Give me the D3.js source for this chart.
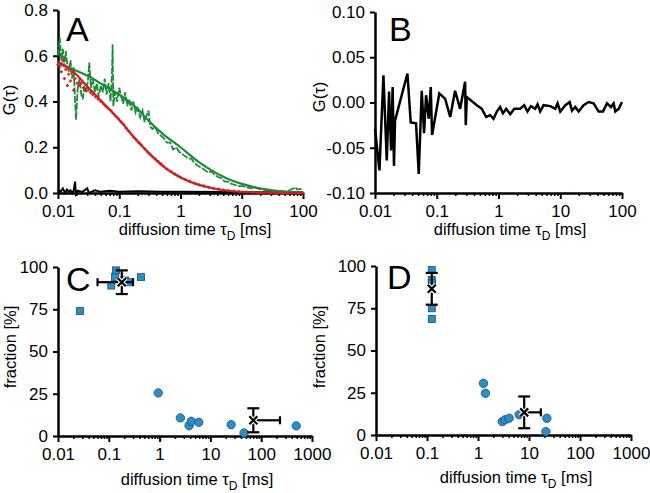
<!DOCTYPE html>
<html><head><meta charset="utf-8">
<script src="https://cdn.jsdelivr.net/npm/d3@7"></script>
<style>
body{margin:0;background:#fff;}
svg{font-family:"Liberation Sans",Arial,sans-serif;}
</style></head><body>
<svg id="c" width="650" height="493"></svg>
<script>
// ---------- DATA ----------
// Panel A: green autocorrelation data (tau in ms, G)
const tauGreen = [0.0100,0.0107,0.0113,0.0120,0.0127,0.0134,0.0142,0.0150,0.0160,0.0170,0.0180,0.0190,0.0197,0.0210,0.0225,0.0240,0.0255,0.0270,0.0290,0.0310,0.0324,0.0345,0.0370,0.0400,0.0430,0.0460,0.0500,0.0540,0.0580,0.0620,0.0670,0.0720,0.0760,0.0780,0.0800,0.0850,0.0920,0.100,0.108,0.116,0.125,0.135,0.146,0.158,0.170,0.185,0.200,0.220,0.240,0.260,0.280,0.300,0.320,0.350,0.390,0.430,0.480,0.530,0.600,0.680,0.760,0.850,0.950,1.07,1.2,1.35,1.5,1.7,1.9,2.2,2.5,2.8,3.2,3.6,4.1,4.6,5.3,6.0,6.8,7.8,9.0,10.5,12,14,16,19,22,26,30,35,42,50,60,70,75,80,90,100];
const gGreen   = [0.60,0.68,0.58,0.63,0.55,0.62,0.56,0.53,0.58,0.50,0.55,0.40,0.32,0.46,0.50,0.43,0.41,0.47,0.44,0.50,0.57,0.46,0.50,0.44,0.48,0.42,0.47,0.44,0.50,0.43,0.48,0.40,0.52,0.65,0.38,0.44,0.40,0.46,0.42,0.39,0.44,0.38,0.41,0.36,0.40,0.35,0.37,0.33,0.36,0.31,0.34,0.36,0.29,0.28,0.29,0.26,0.25,0.24,0.22,0.22,0.19,0.20,0.18,0.17,0.16,0.15,0.15,0.13,0.12,0.11,0.10,0.09,0.095,0.08,0.07,0.065,0.05,0.05,0.04,0.035,0.03,0.03,0.025,0.02,0.025,0.018,0.015,0.012,0.01,0.008,0.01,0.006,0.012,0.02,0.025,0.015,0.018,0.015];
// Panel A: fit curves sampled
const tauFit   = [0.01,0.0178,0.0316,0.0562,0.1,0.178,0.316,0.562,1,1.78,3.16,5.62,10,17.8,31.6,56.2,100];
const gGreenFit= [0.565,0.54,0.51,0.47,0.43,0.38,0.31,0.25,0.20,0.145,0.10,0.065,0.04,0.023,0.012,0.005,0.002];
const gRedFit  = [0.575,0.53,0.46,0.39,0.32,0.24,0.17,0.11,0.068,0.04,0.022,0.011,0.005,0.002,0.001,0.0,0.0];
// Panel A: red autocorrelation data
const tauRed = [0.010,0.0107,0.0113,0.012,0.0127,0.0134,0.0142,0.015,0.016,0.017,0.018,0.019,0.0205,0.022,0.024,0.026,0.028,0.031,0.034,0.037,0.041,0.045,0.05,0.055,0.06,0.066,0.073,0.08,0.088,0.097,0.107,0.118,0.13,0.143,0.158,0.174,0.19,0.21,0.23,0.26,0.29,0.32,0.35,0.39,0.43,0.48,0.53,0.6,0.7,0.8,0.9,1.0,1.2,1.4,1.7,2.0,2.4,2.9,3.5,4.2,5,6,7.5,9,12,15,20,30,50,100];
const gRed   = [0.56,0.55,0.53,0.58,0.50,0.54,0.47,0.52,0.49,0.53,0.45,0.50,0.48,0.47,0.48,0.46,0.45,0.45,0.44,0.43,0.42,0.41,0.40,0.39,0.38,0.37,0.36,0.347,0.335,0.324,0.311,0.30,0.284,0.27,0.256,0.243,0.232,0.22,0.209,0.194,0.18,0.169,0.159,0.148,0.138,0.127,0.116,0.105,0.094,0.084,0.076,0.068,0.059,0.052,0.042,0.036,0.031,0.025,0.020,0.017,0.013,0.010,0.008,0.006,0.004,0.003,0.002,0.001,0.0,0.0];
// Panel A: cross-correlation (black)
const tauCross = [0.01,0.011,0.012,0.013,0.014,0.015,0.016,0.017,0.018,0.019,0.0195,0.021,0.025,0.03,0.032,0.04,0.05,0.07,0.1,0.2,0.5,1,10,100];
const gCross   = [0.015,0.005,0.02,0.0,0.015,0.005,0.012,0.0,0.01,0.05,-0.005,0.01,0.005,0.02,0.0,0.012,0.005,0.01,0.006,0.008,0.005,0.006,0.004,0.003];
// Panel B: residual curve
const tauB = [0.01,0.0118,0.0137,0.0155,0.0169,0.0182,0.0193,0.0203,0.0211,0.0335,0.0379,0.0462,0.0511,0.0571,0.0623,0.0672,0.0742,0.0799,0.084,0.110,0.137,0.165,0.198,0.239,0.288,0.295,0.307,0.445,0.537,0.631,0.733,0.83,0.94,1.06,1.18,1.33,1.55,1.80,2.24,2.61,2.95,3.34,3.93,4.29,4.74,5.37,6.89,8.30,9.06,10.0,12.1,14.2,15.5,17.5,19.8,23.9,28.8,34.7,41.8,49.2,57.1,66.3,73.2,77.9,88.3,100];
const gB   = [-0.029,-0.075,0.030,-0.064,0.012,-0.053,0.017,-0.070,-0.020,0.032,-0.022,-0.023,-0.079,0.013,-0.034,0.008,-0.018,0.017,-0.036,0.010,0.004,-0.016,0.013,-0.007,0.023,-0.025,0.006,-0.003,-0.007,-0.016,-0.014,-0.018,-0.010,-0.005,-0.012,-0.007,-0.013,-0.007,-0.007,-0.003,-0.010,-0.004,-0.007,-0.002,-0.010,-0.003,-0.004,-0.007,-0.001,-0.010,-0.003,0.0005,-0.009,-0.005,-0.010,-0.003,0.0005,-0.001,-0.010,-0.010,-0.001,-0.005,-0.001,-0.010,-0.007,0.0005];
// Panel C: individual fits
const cSqTau = [0.027,0.112,0.133,0.139,0.175,0.21,0.26,0.43];
const cSqFrac= [74,89,94,98,92,92,91,94];
const cCiTau = [0.94,2.56,3.8,4.2,5.9,25.6,46,490];
const cCiFrac= [25.5,10.7,6.1,8.7,8.1,6.7,1.8,6.0];
const cMeanTau=[0.18,70], cMeanFrac=[91,9.3], cErrTau=[0.12,164], cErrFrac=[7,7.1];
// Panel D
const dSqTau = [0.124,0.124,0.124,0.124,0.124];
const dSqFrac= [97.6,91.7,89.8,75,68.6];
const dCiTau = [1.28,1.40,2.98,3.4,4.08,6.42,22.4,21.4];
const dCiFrac= [30.6,24.7,7.9,9.0,9.9,12,9.9,2];
const dMeanTau=[0.124,8.05], dMeanFrac=[86.5,13.4], dErrTau=[0.0,9.0], dErrFrac=[9.4,9.4];
// tick labels
const xTicksAB = [0.01,0.1,1,10,100];
const xTicksCD = [0.01,0.1,1,10,100,1000];
const yTicksA = [0,0.2,0.4,0.6,0.8];
const yTicksB = [-0.10,-0.05,0,0.05,0.10];
const yTicksCD = [0,25,50,75,100];

// ---------- DRAW ----------
const svg = d3.select("#c");
const GREEN="#1e8a3a", RED="#d11f1f", BLUE="#2b8fc6";
function minors(d0,d1){const m=[];for(let e=Math.log10(d0);e<Math.log10(d1);e++){for(let k=2;k<10;k++)m.push(k*Math.pow(10,e));}return m;}
function fmtX(v){return v>=1?String(v):String(+v.toPrecision(1));}

function panel(o){
  const x=d3.scaleLog().domain(o.xd).range(o.xr);
  const y=d3.scaleLinear().domain(o.yd).range(o.yr);
  const g=svg.append("g");
  g.append("g").attr("transform",`translate(0,${o.yr[0]})`)
    .call(d3.axisBottom(x).tickValues(minors(o.xd[0],o.xd[1])).tickSize(3).tickSizeOuter(0).tickFormat(""))
    .call(s=>{s.select(".domain").remove();s.selectAll("line").attr("stroke-width",1.5);});
  const xa=g.append("g").attr("transform",`translate(0,${o.yr[0]})`)
    .call(d3.axisBottom(x).tickValues(o.xt).tickSize(6).tickSizeOuter(0).tickPadding(6).tickFormat(fmtX));
  xa.select(".domain").attr("stroke-width",2.5);
  xa.selectAll("line").attr("stroke-width",2);
  xa.selectAll("text").attr("font-size",17).attr("fill","#000").attr("font-family","Liberation Sans, Arial");
  const ya=g.append("g").attr("transform",`translate(${o.xr[0]},0)`)
    .call(d3.axisLeft(y).tickValues(o.yt).tickSize(5).tickSizeOuter(0).tickPadding(5).tickFormat(o.yf));
  ya.select(".domain").attr("stroke-width",2.5);
  ya.selectAll("line").attr("stroke-width",2);
  ya.selectAll("text").attr("font-size",17).attr("fill","#000").attr("font-family","Liberation Sans, Arial");
  const t=g.append("text").attr("x",o.tx).attr("y",o.ty).attr("text-anchor","middle").attr("font-size",16.5);
  t.append("tspan").text("diffusion time τ");
  t.append("tspan").attr("dy",5).attr("font-size",12).text("D");
  t.append("tspan").attr("dy",-5).text(" [ms]");
  g.append("text").attr("transform",`translate(${o.lx},${o.ly}) rotate(-90)`).attr("text-anchor","middle")
    .attr("dy","0.35em").attr("font-size",16.5).text(o.ylab);
  g.append("text").attr("x",o.px).attr("y",o.py).attr("font-size",34).text(o.letter);
  return {x,y,g};
}

// Panel A
const A=panel({xd:[0.01,100],xr:[58,303],yd:[0,0.8],yr:[193,10],xt:xTicksAB,yt:yTicksA,yf:d3.format(".1f"),
  tx:195,ty:235,lx:9,ly:100,ylab:"G(τ)",px:66,py:41,letter:"A"});
const lineA=(xs,ys)=>d3.line().x((d,i)=>A.x(xs[i])).y((d,i)=>A.y(ys[i]))(xs);
A.g.append("path").attr("d",lineA(tauCross,gCross)).attr("fill","none").attr("stroke","#000").attr("stroke-width",2);
A.g.append("path").attr("d",lineA(tauGreen,gGreen)).attr("fill","none").attr("stroke",GREEN).attr("stroke-width",1.8).attr("stroke-dasharray","7 1.5");
const fitLine=d3.line().curve(d3.curveMonotoneX);
A.g.append("path").attr("d",fitLine(tauFit.map((t,i)=>[A.x(t),A.y(gGreenFit[i])]))).attr("fill","none").attr("stroke",GREEN).attr("stroke-width",2.2);
A.g.append("path").attr("d",fitLine(tauFit.map((t,i)=>[A.x(t),A.y(gRedFit[i])]))).attr("fill","none").attr("stroke",RED).attr("stroke-width",2.2);
// red data as small crosses
A.g.selectAll(".rp").data(tauRed).enter().append("path")
  .attr("d",(d,i)=>{const cx=A.x(d),cy=A.y(gRed[i]);return `M${cx-1.6},${cy}L${cx+1.6},${cy}M${cx},${cy-1.6}L${cx},${cy+1.6}`;})
  .attr("stroke",RED).attr("stroke-width",1.3);

// Panel B
const B=panel({xd:[0.01,100],xr:[375,622],yd:[-0.1,0.1],yr:[193,12],xt:xTicksAB,yt:yTicksB,
  yf:v=>d3.format(".2f")(v).replace("−","-"),tx:510,ty:235,lx:319,ly:97,ylab:"G(τ)",px:389,py:41,letter:"B"});
B.g.append("path").attr("d",d3.line().x((d,i)=>B.x(tauB[i])).y((d,i)=>B.y(gB[i]))(tauB))
  .attr("fill","none").attr("stroke","#000").attr("stroke-width",2.5).attr("stroke-linejoin","miter");

// Panels C, D
function scatter(P,sqT,sqF,ciT,ciF,mT,mF,eT,eF){
  P.g.selectAll(".sq").data(sqT).enter().append("rect")
    .attr("x",(d)=>P.x(d)-3.5).attr("y",(d,i)=>P.y(sqF[i])-3.5).attr("width",7).attr("height",7)
    .attr("fill",BLUE).attr("stroke","#1b4f72").attr("stroke-width",0.8);
  P.g.selectAll(".ci").data(ciT).enter().append("circle")
    .attr("cx",(d)=>P.x(d)).attr("cy",(d,i)=>P.y(ciF[i])).attr("r",4.2)
    .attr("fill",BLUE).attr("stroke","#1b4f72").attr("stroke-width",0.8);
  mT.forEach((t,i)=>{
    const cx=P.x(t), cy=P.y(mF[i]);
    const st=(s)=>s.attr("stroke","#000").attr("stroke-width",2.2);
    const y1=P.y(mF[i]+eF[i]), y2=P.y(mF[i]-eF[i]);
    st(P.g.append("line").attr("x1",cx).attr("x2",cx).attr("y1",y1).attr("y2",y2));
    st(P.g.append("line").attr("x1",cx-6).attr("x2",cx+6).attr("y1",y1).attr("y2",y1));
    st(P.g.append("line").attr("x1",cx-6).attr("x2",cx+6).attr("y1",y2).attr("y2",y2));
    if(eT[i]>0){
      const xr=P.x(t+eT[i]);
      st(P.g.append("line").attr("x1",cx).attr("x2",xr).attr("y1",cy).attr("y2",cy));
      st(P.g.append("line").attr("x1",xr).attr("x2",xr).attr("y1",cy-4).attr("y2",cy+4));
      if(t-eT[i]>0){
        const xl=P.x(t-eT[i]);
        st(P.g.append("line").attr("x1",xl).attr("x2",cx).attr("y1",cy).attr("y2",cy));
        st(P.g.append("line").attr("x1",xl).attr("x2",xl).attr("y1",cy-4).attr("y2",cy+4));
      }
    }
    const s=4;
    P.g.append("path").attr("d",`M${cx-s},${cy-s}L${cx+s},${cy+s}M${cx-s},${cy+s}L${cx+s},${cy-s}`)
      .attr("stroke","#fff").attr("stroke-width",4.5);
    P.g.append("path").attr("d",`M${cx-s},${cy-s}L${cx+s},${cy+s}M${cx-s},${cy+s}L${cx+s},${cy-s}`)
      .attr("stroke","#000").attr("stroke-width",2.2);
  });
}
const C=panel({xd:[0.01,1000],xr:[58,312],yd:[0,100],yr:[436,267],xt:xTicksCD,yt:yTicksCD,yf:d3.format("d"),
  tx:197,ty:485,lx:10,ly:347,ylab:"fraction [%]",px:66,py:291,letter:"C"});
scatter(C,cSqTau,cSqFrac,cCiTau,cCiFrac,cMeanTau,cMeanFrac,cErrTau,cErrFrac);
const D=panel({xd:[0.01,1000],xr:[376,631],yd:[0,100],yr:[435,266],xt:xTicksCD,yt:yTicksCD,yf:d3.format("d"),
  tx:516,ty:483,lx:319,ly:347,ylab:"fraction [%]",px:387,py:289,letter:"D"});
scatter(D,dSqTau,dSqFrac,dCiTau,dCiFrac,dMeanTau,dMeanFrac,dErrTau,dErrFrac);
</script></body></html>
